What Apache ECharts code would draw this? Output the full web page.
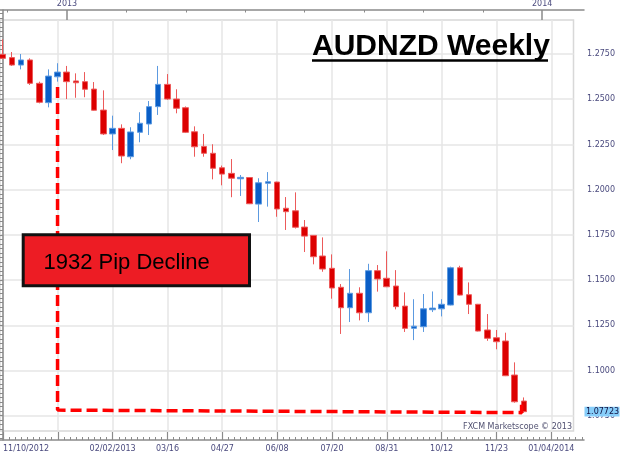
<!DOCTYPE html>
<html><head><meta charset="utf-8">
<script src="https://cdn.jsdelivr.net/npm/echarts@6/dist/echarts.min.js"></script>
<style>html,body{margin:0;padding:0;background:#fff}#c{width:624px;height:458px}</style>
</head><body><div id="c"></div>
<script>
// ---- data (weekly AUDNZD candles) ----
const weeks = ['11/10/2012','11/17/2012','11/24/2012','12/01/2012','12/08/2012','12/15/2012','12/22/2012','12/29/2012',
 '01/05/2013','01/12/2013','01/19/2013','01/26/2013','02/02/2013','02/09/2013','02/16/2013','02/23/2013','03/02/2013','03/09/2013',
 '03/16/2013','03/23/2013','03/30/2013','04/06/2013','04/13/2013','04/20/2013','04/27/2013','05/04/2013','05/11/2013','05/18/2013',
 '05/25/2013','06/01/2013','06/08/2013','06/15/2013','06/22/2013','06/29/2013','07/06/2013','07/13/2013','07/20/2013','07/27/2013',
 '08/03/2013','08/10/2013','08/17/2013','08/24/2013','08/31/2013','09/07/2013','09/14/2013','09/21/2013','09/28/2013','10/05/2013',
 '10/12/2013','10/19/2013','10/26/2013','11/02/2013','11/09/2013','11/16/2013','11/23/2013','11/30/2013','12/07/2013','12/14/2013'];
const open  = [1.2748,1.2730,1.2689,1.2717,1.2588,1.2481,1.2624,1.2650,1.2601,1.2597,1.2556,1.2440,1.2308,1.2339,1.2182,1.2317,1.2363,1.2459,
 1.2582,1.2501,1.2453,1.2320,1.2239,1.2201,1.2121,1.2090,1.2060,1.2067,1.1920,1.2035,1.2042,1.1897,1.1883,1.1793,1.1747,1.1633,1.1565,1.1460,
 1.1347,1.1427,1.1319,1.1552,1.1510,1.1467,1.1356,1.1233,1.1242,1.1336,1.1341,1.1362,1.1568,1.1419,1.1366,1.1224,1.1181,1.1163,1.0975,1.0831];
const close = [1.2726,1.2689,1.2717,1.2588,1.2483,1.2628,1.2650,1.2597,1.2591,1.2555,1.2439,1.2308,1.2339,1.2186,1.2319,1.2367,1.2459,1.2582,
 1.2501,1.2450,1.2317,1.2237,1.2201,1.2118,1.2086,1.2063,1.2068,1.1922,1.2038,1.2044,1.1893,1.1878,1.1792,1.1743,1.1629,1.1561,1.1456,1.1347,
 1.1427,1.1319,1.1552,1.1506,1.1463,1.1353,1.1233,1.1245,1.1341,1.1345,1.1366,1.1568,1.1417,1.1366,1.1218,1.1178,1.1159,1.0971,1.0827,1.07723];
const low   = [1.2721,1.2684,1.2665,1.2579,1.2477,1.2455,1.2597,1.2501,1.2508,1.2511,1.2436,1.2302,1.2219,1.2146,1.2168,1.2262,1.2302,1.2413,
 1.2496,1.2422,1.2313,1.2182,1.2182,1.2057,1.2024,1.1958,1.1965,1.1920,1.1821,1.1906,1.1850,1.1777,1.1785,1.1655,1.1587,1.1546,1.1397,1.1202,
 1.1268,1.1277,1.1268,1.1436,1.1461,1.1338,1.1213,1.1168,1.1213,1.1323,1.1299,1.1360,1.1415,1.1312,1.1216,1.1164,1.1117,1.0969,1.0822,1.0766];
const high  = [1.2831,1.2761,1.2750,1.2726,1.2597,1.2665,1.2699,1.2684,1.2643,1.2650,1.2595,1.2549,1.2409,1.2361,1.2345,1.2428,1.2490,1.2684,
 1.2639,1.2555,1.2460,1.2350,1.2308,1.2251,1.2133,1.2169,1.2081,1.2068,1.2063,1.2097,1.2044,1.1959,1.1985,1.1832,1.1749,1.1736,1.1642,1.1478,
 1.1561,1.1460,1.1590,1.1583,1.1659,1.1555,1.1432,1.1394,1.1423,1.1437,1.1394,1.1574,1.1579,1.1487,1.1368,1.1312,1.1224,1.1209,1.1045,1.0851];
const lastPrice = 1.07723;
// tick labels
const xTickIdx    = [0,6,12,18,24,30,36,42,48,54,60];
const xTickLabels = ['11/10/2012','','02/02/2013','03/16','04/27','06/08','07/20','08/31','10/12','11/23','01/04/2014'];
const yearTickIdx = [7,59];
const yearLabels  = ['2013','2014'];
const yTicks = [1.075,1.1,1.125,1.15,1.175,1.2,1.225,1.25,1.275];
// annotation
const titleText = 'AUDNZD Weekly';
const declineText = '1932 Pip Decline';
const declinePath = [[6,1.2567],[6,1.0781],[56.75,1.0767],[56.75,1.0828]];
const footerText = 'FXCM Marketscope \u00A9 2013';

// ---- layout: pixel calibration ----
const X0 = 2.7, PXW = 9.143, Y0 = 54, YREF = 1.275, PXU = 1808.5;
const inner = {l:0, r:573.5, t:20, b:431};
const outer = {l:0, r:584, t:10, b:440};
const xAt = px => (px - X0) / PXW;
const yAt = py => YREF - (py - Y0) / PXU;

const xMin = xAt(0);
const xMax0 = xAt(inner.r), xMax1 = xAt(outer.r);
const yMax0 = yAt(inner.t), yMin0 = yAt(inner.b);
const yMax1 = yAt(outer.t), yMin1 = yAt(outer.b);

const xMinor = [];
for (let k = Math.ceil(xMin * 1.5); k <= Math.floor(xMax1 * 1.5); k++) { if (k % 9 !== 0) xMinor.push(k / 1.5); }
const topMinor = [];
for (let k = 0; k < 10; k++) { const v = 0.5 + 6.5 * k; if (yearTickIdx.indexOf(v) < 0) topMinor.push(v); }
const yMinor = [];
for (let k = Math.ceil(yMin1 / 0.0025); k <= Math.floor(yMax1 / 0.0025); k++) { if (k % 10 !== 0) yMinor.push(+(k * 0.0025).toFixed(4)); }

const candleData = weeks.map((w, i) => [i, open[i], close[i], low[i], high[i]]);

const AX = '#8a8a8a', LBL = '#4a4a7e', GRIDC = '#e6e6e6';
const lblFont = {fontFamily: 'DejaVu Sans', fontSize: 8, color: LBL};

const chart = echarts.init(document.getElementById('c'), null, {renderer: 'canvas'});
chart.setOption({
  animation: false,
  backgroundColor: '#fff',
  title: {text: titleText, left: 312, top: 31.5, padding: 0,
    textStyle: {fontFamily: 'Liberation Sans', fontWeight: 'bold', fontSize: 30, color: '#000'}},
  grid: [
    {left: inner.l, right: 624 - inner.r, top: inner.t, bottom: 458 - inner.b, show: true, borderColor: '#d8d8d8', borderWidth: 1.5, backgroundColor: 'transparent'},
    {left: outer.l, right: 624 - outer.r, top: outer.t, bottom: 458 - outer.b, show: false}
  ],
  xAxis: [
    {gridIndex: 0, type: 'value', min: xMin, max: xMax0, axisLine: {show: false},
      axisTick: {show: false, customValues: xTickIdx}, axisLabel: {show: false},
      splitLine: {show: true, lineStyle: {color: GRIDC, width: 1.5}}},
    {gridIndex: 1, type: 'value', position: 'bottom', min: xMin, max: xMax1,
      axisLine: {show: true, lineStyle: {color: AX, width: 1.5}},
      axisTick: {show: true, inside: true, length: 8, customValues: xTickIdx, lineStyle: {color: AX, width: 1.2}},
      axisLabel: Object.assign({show: true, customValues: xTickIdx, margin: 5, alignMinLabel: 'left',
        formatter: v => xTickLabels[xTickIdx.indexOf(Math.round(v))] || ''}, lblFont),
      splitLine: {show: false}},
    {gridIndex: 1, type: 'value', position: 'bottom', min: xMin, max: xMax1,
      axisLine: {show: false},
      axisTick: {show: true, inside: true, length: 3, customValues: xMinor, lineStyle: {color: AX, width: 1}},
      axisLabel: {show: false}, splitLine: {show: false}},
    {gridIndex: 1, type: 'value', position: 'top', min: xMin, max: xMax1,
      axisLine: {show: true, lineStyle: {color: AX, width: 1.5}},
      axisTick: {show: true, inside: true, length: 2.5, customValues: topMinor, lineStyle: {color: AX, width: 1}},
      axisLabel: {show: false}, splitLine: {show: false}},
    {gridIndex: 1, type: 'value', position: 'top', min: xMin, max: xMax1,
      axisLine: {show: false},
      axisTick: {show: true, inside: true, length: 10, customValues: yearTickIdx, lineStyle: {color: AX, width: 1.5}},
      axisLabel: Object.assign({show: true, customValues: yearTickIdx, margin: 2,
        formatter: v => yearLabels[yearTickIdx.indexOf(Math.round(v))] || ''}, lblFont),
      splitLine: {show: false}}
  ],
  yAxis: [
    {gridIndex: 0, type: 'value', min: yMin0, max: yMax0, axisLine: {show: false},
      axisTick: {show: false, customValues: yTicks}, axisLabel: {show: false},
      splitLine: {show: true, lineStyle: {color: GRIDC, width: 1.5}}},
    {gridIndex: 1, type: 'value', position: 'right', min: yMin1, max: yMax1,
      axisLine: {show: true, lineStyle: {color: AX, width: 1.5}},
      axisTick: {show: true, inside: true, length: 10.5, customValues: yTicks, lineStyle: {color: AX, width: 1.2}},
      axisLabel: Object.assign({show: true, customValues: yTicks, margin: 3, formatter: v => v.toFixed(4)}, lblFont),
      splitLine: {show: false}},
    {gridIndex: 1, type: 'value', position: 'right', min: yMin1, max: yMax1,
      axisLine: {show: false},
      axisTick: {show: true, inside: true, length: 4, customValues: yMinor, lineStyle: {color: AX, width: 1}},
      axisLabel: {show: false}, splitLine: {show: false}}
  ],
  series: [
    {type: 'candlestick', xAxisIndex: 0, yAxisIndex: 0, data: candleData,
      encode: {x: 0, y: [1, 2, 3, 4]}, barWidth: 6, clip: false, silent: true,
      itemStyle: {color: '#0a5ec6', color0: '#dc0000', borderColor: '#5c9ae0', borderColor0: '#ec5a5a', borderWidth: 1}
    },
    {type: 'line', xAxisIndex: 0, yAxisIndex: 0, data: declinePath, symbol: 'none', silent: true, z: 3, clip: false,
      lineStyle: {color: '#ff0000', width: 3.5, type: [11, 5]}}
  ],
  graphic: [
    {type: 'line', shape: {x1: 312, y1: 60.5, x2: 548, y2: 60.5}, style: {stroke: '#000', lineWidth: 2.5}, z: 10},
    {type: 'rect', shape: {x: 23.2, y: 234.8, width: 226.3, height: 51}, style: {fill: '#ed1c24', stroke: '#111', lineWidth: 3}, z: 10},
    {type: 'text', style: {text: declineText, x: 43.5, y: 262.5, fill: '#000', font: '22px "Liberation Sans"', align: 'left', verticalAlign: 'middle'}, z: 11},
    {type: 'text', right: 52, top: 422.5, style: {text: footerText, fill: '#505070', font: '8px "DejaVu Sans"'}, z: 10}
  ]
});
// last-price tag on the right axis, placed through the axis scale
const tagY = chart.convertToPixel({yAxisIndex: 1}, lastPrice);
const tagX = chart.convertToPixel({xAxisIndex: 1}, xMax1);
chart.setOption({graphic: [
  {type: 'line', shape: {x1: 312, y1: 60.5, x2: 548, y2: 60.5}, style: {stroke: '#000', lineWidth: 2.5}, z: 10},
  {type: 'rect', shape: {x: 23.2, y: 234.8, width: 226.3, height: 51}, style: {fill: '#ed1c24', stroke: '#111', lineWidth: 3}, z: 10},
  {type: 'text', style: {text: declineText, x: 43.5, y: 262.5, fill: '#000', font: '22px "Liberation Sans"', align: 'left', verticalAlign: 'middle'}, z: 11},
  {type: 'text', right: 52, top: 422.5, style: {text: footerText, fill: '#505070', font: '8px "DejaVu Sans"'}, z: 10},
  {type: 'rect', shape: {x: tagX + 0.5, y: tagY - 4.8, width: 35, height: 9.6}, style: {fill: '#87cefa'}, z: 20},
  {type: 'text', style: {text: lastPrice.toFixed(5), x: tagX + 2, y: tagY + 0.3, fill: '#101040', font: '8px "DejaVu Sans"', align: 'left', verticalAlign: 'middle'}, z: 21}
]});
</script></body></html>
